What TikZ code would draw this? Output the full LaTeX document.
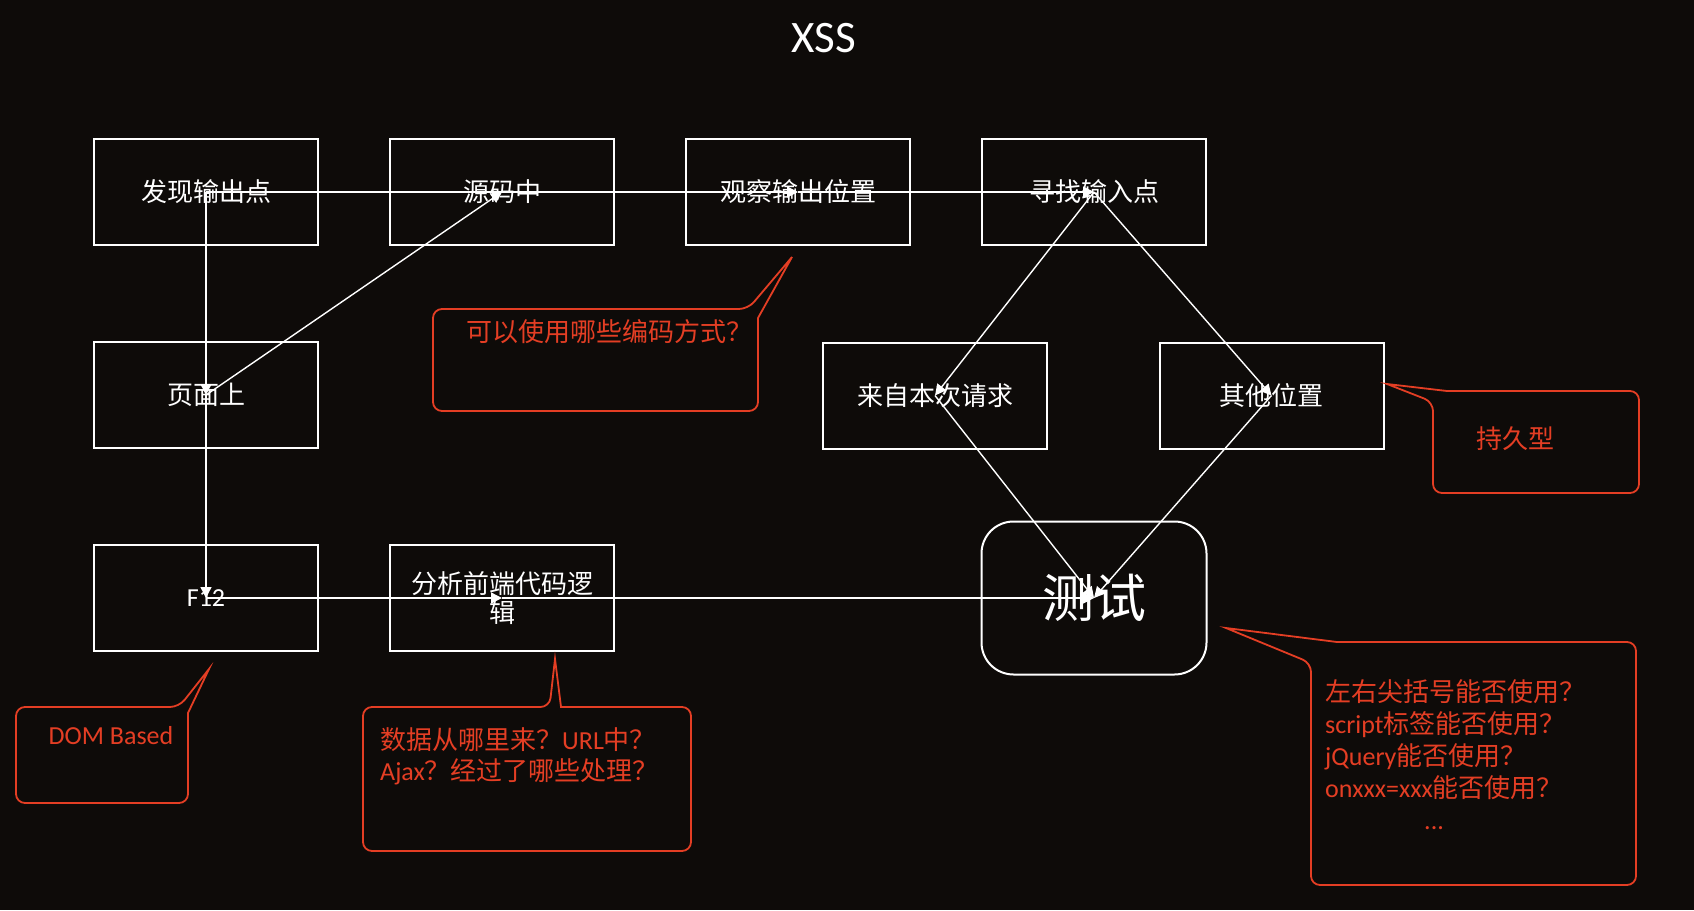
\documentclass[tikz,border=0pt]{standalone}
\usepackage{fontspec}
\setmainfont{Carlito}
\newfontfamily\cjk{Noto Sans CJK SC}
\usetikzlibrary{positioning,arrows.meta}
\definecolor{bgdark}{RGB}{14,11,9}
\definecolor{notered}{RGB}{228,62,36}

\begin{document}
\begin{tikzpicture}[x=1pt, y=-1pt, >={Triangle[length=11pt,width=11pt]},
	box/.style={draw=white, line width=2pt, minimum width=224pt, minimum height=106pt, inner sep=0pt, text=white, align=center, font=\cjk\fontsize{26}{30}\selectfont},
	flow/.style={draw=white, line width=1.4pt},
	notearea/.style={inner sep=0pt, outer sep=0pt},
	note/.style={draw=notered, line width=1.8pt},
	notetext/.style={text=notered, inner sep=0pt, align=left, font=\fontsize{26}{32}\selectfont}]
		\useasboundingbox (0,0) rectangle (1694,910);
		\fill[bgdark] (0,0) rectangle (1694,910);
		\node[text=white, font=\fontsize{45}{50}\selectfont] (title) at (824,38) {XSS};
		
		% boxes
		\node[box] (find) at (206,192) {发现输出点};
		\node[box, right=70pt of find] (source) {源码中};
		\node[box, right=70pt of source] (observe) {观察输出位置};
		\node[box, right=70pt of observe] (seek) {寻找输入点};
		\node[box, below=95pt of find] (page) {页面上};
		\node[box] (request) at (935,395.5) {来自本次请求};
		\node[box] (elsewhere) at (1271.5,395.5) {其他位置};
		\node[box, below=95pt of page, font=\fontsize{26}{30}\selectfont] (devtools) {F12};
		\node[box, right=70pt of devtools, font=\cjk\fontsize{26}{29.6}\selectfont] (analyse) {分析前端代码逻\\辑};
		\node[box, rounded corners=32pt, minimum width=225pt, minimum height=153pt, font=\cjk\fontsize{52}{60}\selectfont] (test) at (seek |- devtools) {测试};
		
		\draw[flow] (find.center) -- (source.center);
		\draw[flow, ->] (source.center) -- (observe.center);
		\draw[flow, ->] (observe.center) -- (seek.center);
		\draw[flow, ->] (find.center) -- (page.center);
		\draw[flow, ->] (page.center) -- (source.center);
		\draw[flow, ->] (page.center) -- (devtools.center);
		\draw[flow, ->] (devtools.center) -- (analyse.center);
		\draw[flow, ->] (analyse.center) -- (test.center);
		\draw[flow, ->] (seek.center) -- (request.center);
		\draw[flow, ->] (seek.center) -- (elsewhere.center);
		\draw[flow, ->] (request.center) -- (test.center);
		\draw[flow, ->] (elsewhere.center) -- (test.center);
		
		% notes
		\node[notearea, minimum width=325pt, minimum height=102pt] (encarea) at (595.5,360) {};
		\coordinate (enctip) at (792,257);
		\draw[note, rounded corners=9pt] (encarea.north west) -- ([xshift=-10pt]encarea.north east) [sharp corners] -- (enctip) -- ([yshift=-9pt]encarea.north east) [rounded corners=9pt] -- (encarea.south east) -- (encarea.south west) -- cycle;
		\node[notetext, anchor=west] (enctext) at (466,332) {\cjk 可以使用哪些编码方式？};
		
		\node[notearea, minimum width=206pt, minimum height=102pt] (keeparea) at (1536,442) {};
		\coordinate (keeptip) at (1387,384);
		\draw[note, rounded corners=9pt] ([xshift=14pt]keeparea.north west) -- (keeparea.north east) -- (keeparea.south east) -- (keeparea.south west) -- ([yshift=-11pt]keeparea.north west) [sharp corners] -- (keeptip) -- cycle;
		\node[notetext] (keeptext) at (1515,439) {\cjk 持久型};
		
		\node[notearea, minimum width=325pt, minimum height=243pt] (checkarea) at (1473.5,763.5) {};
		\coordinate (checktip) at (1226,628);
		\draw[note, rounded corners=9pt] ([xshift=26pt]checkarea.north west) -- (checkarea.north east) -- (checkarea.south east) -- (checkarea.south west) -- ([yshift=-21pt]checkarea.north west) [sharp corners] -- (checktip) -- cycle;
		\node[notetext, anchor=north west] (checktext) at (1325,679) {{\cjk 左右尖括号能否使用？}\\script{\cjk 标签能否使用？}\\jQuery{\cjk 能否使用？}\\onxxx=xxx{\cjk 能否使用？}\\\hspace*{99pt}...};
		
		\node[notearea, minimum width=172pt, minimum height=96pt] (domarea) at (102,755) {};
		\coordinate (domtip) at (209,669);
		\draw[note, rounded corners=9pt] (domarea.north west) -- ([xshift=-9pt]domarea.north east) [sharp corners] -- (domtip) -- ([yshift=-6pt]domarea.north east) [rounded corners=9pt] -- (domarea.south east) -- (domarea.south west) -- cycle;
		\node[notetext] (domtext) at (111,736) {DOM Based};
		
		\node[notearea, minimum width=328pt, minimum height=144pt] (dataarea) at (527,779) {};
		\coordinate (datatip) at (555,659);
		\draw[note, rounded corners=9pt] (dataarea.north west) -- ([xshift=22.5pt]dataarea.north) [sharp corners] -- (datatip) -- ([xshift=34pt]dataarea.north) [rounded corners=9pt] -- (dataarea.north east) -- (dataarea.south east) -- (dataarea.south west) -- cycle;
		\node[notetext, anchor=north west, font=\fontsize{26}{31}\selectfont] (datatext) at (380,727) {{\cjk 数据从哪里来？}URL{\cjk 中？}\\Ajax{\cjk ？经过了哪些处理？}};
	\end{tikzpicture}
\end{document}
